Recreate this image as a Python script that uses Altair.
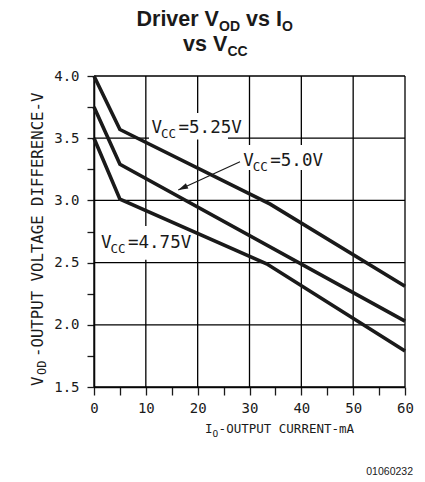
import altair as alt
import pandas as pd

# ---- data ----
I_525 = [0, 5, 34, 60]
V_525 = [4.0, 3.57, 2.97, 2.31]
I_500 = [0, 5, 60]
V_500 = [3.75, 3.29, 2.03]
I_475 = [0, 5, 33.3, 60]
V_475 = [3.5, 3.01, 2.49, 1.79]

X_TICKS = [0, 5, 10, 15, 20, 25, 30, 35, 40, 45, 50, 55, 60]
Y_TICKS = [1.5, 1.75, 2.0, 2.25, 2.5, 2.75, 3.0, 3.25, 3.5, 3.75, 4.0]
X_GRID = [0, 10, 20, 30, 40, 50, 60]
Y_GRID = [1.5, 2.0, 2.5, 3.0, 3.5, 4.0]
X_DOMAIN = [0, 60]
Y_DOMAIN = [1.5, 4.0]

LABELS = ["5.25V", "5.0V", "4.75V"]
LABEL_I = [11.1, 28.8, 1.35]
LABEL_V = [3.544, 3.277, 2.615]

ARROW_FROM = (28.17, 3.311)
ARROW_TO = (16.26, 3.084)

INK = "#1a1a1a"
MONO = "DejaVu Sans Mono"
SANS = "Liberation Sans"

xs = alt.Scale(domain=X_DOMAIN, nice=False, zero=False)
ys = alt.Scale(domain=Y_DOMAIN, nice=False, zero=False)

xaxis = alt.Axis(values=X_TICKS, labelExpr="datum.value % 10 === 0 ? datum.label : ''",
                 grid=False, tickSize=8, tickColor=INK, tickWidth=1.3,
                 domainColor=INK, domainWidth=1.6, labelFont=MONO, labelFontSize=14,
                 labelColor=INK, labelPadding=6, labelFlush=False, labelOverlap=False,
                 title=None, format="d")
yaxis = alt.Axis(values=Y_TICKS, labelExpr="(datum.value * 100) % 50 === 0 ? datum.label : ''",
                 grid=False, tickSize=7, tickColor=INK, tickWidth=1.3,
                 domainColor=INK, domainWidth=1.6, labelFont=MONO, labelFontSize=14,
                 labelColor=INK, labelPadding=8, labelFlush=False, labelOverlap=False,
                 title=None, format=".1f")


def X(f):
    return alt.X(f, type="quantitative", scale=xs, axis=xaxis)


def Y(f):
    return alt.Y(f, type="quantitative", scale=ys, axis=yaxis)


gx = pd.DataFrame({"gxv": X_GRID, "gy1": [Y_DOMAIN[0]] * len(X_GRID), "gy2": [Y_DOMAIN[1]] * len(X_GRID)})
gy = pd.DataFrame({"gyv": Y_GRID, "gx1": [X_DOMAIN[0]] * len(Y_GRID), "gx2": [X_DOMAIN[1]] * len(Y_GRID)})
grid_x = alt.Chart(gx).mark_rule(color="black", strokeWidth=1.3).encode(
    x=X("gxv"), y=Y("gy1"), y2=alt.Y2("gy2"))
grid_y = alt.Chart(gy).mark_rule(color="black", strokeWidth=1.3).encode(
    y=Y("gyv"), x=X("gx1"), x2=alt.X2("gx2"))

# white patches behind the curve labels (the reference breaks the grid there)
masks = pd.DataFrame({
    "mx1": [10.61, 27.78, 0.58],
    "mx2": [25.85, 45.14, 19.1],
    "my1": [3.7026, 3.4453, 2.7942],
    "my2": [3.49, 3.2444, 2.5233],
})
mask = alt.Chart(masks).mark_rect(color="white", opacity=1).encode(
    x=X("mx1"), x2=alt.X2("mx2"), y=Y("my1"), y2=alt.Y2("my2"))

rows = []
for name, I, V in [("5.25", I_525, V_525), ("5.0", I_500, V_500), ("4.75", I_475, V_475)]:
    for k, (i, v) in enumerate(zip(I, V)):
        rows.append({"series": name, "i": i, "v": v, "k": k})
curves = alt.Chart(pd.DataFrame(rows)).mark_line(color=INK, strokeWidth=3.6, strokeCap="butt", strokeJoin="miter").encode(
    x=X("i"), y=Y("v"), detail="series:N", order="k:Q")

arrow_df = pd.DataFrame({"ax1": [ARROW_FROM[0]], "ay1": [ARROW_FROM[1]], "ax2": [ARROW_TO[0]], "ay2": [ARROW_TO[1]]})
arrow_line = alt.Chart(arrow_df).mark_rule(color=INK, strokeWidth=1.2).encode(
    x=X("ax1"), y=Y("ay1"), x2=alt.X2("ax2"), y2=alt.Y2("ay2"))
head_df = pd.DataFrame({"hx": [ARROW_TO[0]], "hy": [ARROW_TO[1]]})
arrow_head = alt.Chart(head_df).mark_point(
    shape="M0,0 L0.3,1 L-0.3,1 Z", size=380, filled=True, color=INK, opacity=1, angle=245, strokeWidth=0
).encode(x=X("hx"), y=Y("hy"))

lab_df = pd.DataFrame({"lx": LABEL_I, "ly": LABEL_V, "t": ["=" + s for s in LABELS]})
lab_v = alt.Chart(lab_df).mark_text(text="V", font=MONO, fontSize=17.5, align="left",
                                    baseline="alphabetic", color=INK).encode(x=X("lx"), y=Y("ly"))
lab_cc = alt.Chart(lab_df).mark_text(text="CC", font=MONO, fontSize=12.5, align="left",
                                     baseline="alphabetic", color=INK, dx=9.5, dy=5).encode(x=X("lx"), y=Y("ly"))
lab_rest = alt.Chart(lab_df).mark_text(font=MONO, fontSize=17.5, align="left",
                                       baseline="alphabetic", color=INK, dx=27).encode(
    x=X("lx"), y=Y("ly"), text="t:N")

one = pd.DataFrame({"a": [0]})


def piece(text, px, py, size, font=MONO, weight="normal", angle=0, align="left"):
    return alt.Chart(one).mark_text(text=text, font=font, fontSize=size, fontWeight=weight,
                                    angle=angle, align=align, baseline="alphabetic", color=INK).encode(
        x=alt.value(px), y=alt.value(py))


pieces = [
    # title
    piece("Driver V", 42.5, -50, 21.5, SANS, "bold"),
    piece("OD", 125.0, -45.5, 14, SANS, "bold"),
    piece("vs I", 152.0, -50, 21.5, SANS, "bold"),
    piece("O", 188.0, -45.5, 14, SANS, "bold"),
    piece("vs V", 89.0, -25, 21.5, SANS, "bold"),
    piece("CC", 133.5, -20.5, 14, SANS, "bold"),
    # y title
    piece("V", -51.3, 310, 15.7, angle=270),
    piece("OD", -48.3, 299, 12, angle=270),
    piece("-OUTPUT VOLTAGE DIFFERENCE-V", -51.3, 281, 15.7, angle=270),
    # x title
    piece("I", 111, 357.3, 12.5),
    piece("O", 118.6, 361, 9.5),
    piece("-OUTPUT CURRENT-mA", 124.6, 357.3, 12.5),
    # footer
    piece("01060232", 319, 399, 10.5, SANS, align="right"),
]

chart = alt.layer(grid_x, grid_y, mask, curves, arrow_line, arrow_head, lab_v, lab_cc, lab_rest, *pieces).properties(
    width=311, height=311,
    autosize=alt.AutoSizeParams(type="none"),
    padding={"left": 86, "top": 68, "right": 10, "bottom": 92},
).configure_view(stroke=None)

chart.save("out.html", embed_options={"renderer": "svg", "actions": False})
